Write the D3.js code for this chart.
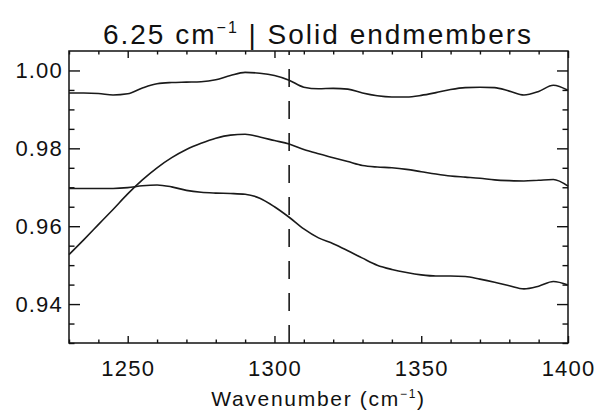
<!DOCTYPE html>
<meta charset="utf-8">
<head>
<script src="https://d3js.org/d3.v7.min.js"></script>
<style>
body { margin: 0; background: #fff; }
text { font-family: "Liberation Sans", Arial, sans-serif; fill: #111; }
.axis path { display: none; }
.axis line { stroke: #111; stroke-width: 1.4; }
.axis text { letter-spacing: 1.2px; }
</style>
</head>
<body>
<script>
// wavenumbers (cm-1), one sample every 5
var wavenumber = [1230,1235,1240,1245,1250,1255,1260,1265,1270,1275,1280,1285,1290,1295,1300,1305,1310,1315,1320,1325,1330,1335,1340,1345,1350,1355,1360,1365,1370,1375,1380,1385,1390,1395,1400];

var upper = [0.9942,0.9942,0.9941,0.9937,0.9940,0.9955,0.9966,0.9969,0.9970,0.9971,0.9976,0.9987,0.9995,0.9993,0.9987,0.9975,0.9957,0.9953,0.9954,0.9952,0.9942,0.9935,0.9932,0.9932,0.9936,0.9943,0.9951,0.9956,0.9957,0.9956,0.9947,0.9937,0.9946,0.9962,0.9949];

var middle = [0.9527,0.9565,0.9604,0.9643,0.9683,0.9719,0.9750,0.9776,0.9797,0.9813,0.9826,0.9834,0.9836,0.9829,0.9820,0.9811,0.9797,0.9786,0.9776,0.9766,0.9756,0.9752,0.9750,0.9746,0.9740,0.9734,0.9729,0.9726,0.9723,0.9719,0.9717,0.9716,0.9718,0.9720,0.9703];

var lower = [0.9697,0.9697,0.9697,0.9697,0.9699,0.9704,0.9706,0.9701,0.9692,0.9687,0.9685,0.9684,0.9682,0.9672,0.9650,0.9623,0.9593,0.9570,0.9555,0.9537,0.9518,0.9500,0.9489,0.9481,0.9475,0.9472,0.9472,0.9471,0.9464,0.9456,0.9447,0.9439,0.9446,0.9458,0.9449];

var xTicks = [1250, 1300, 1350, 1400];
var yTicks = [0.94, 0.96, 0.98, 1.00];
var markerWn = 1305;

var width = 597, height = 411;
var margin = {top: 51, right: 29, bottom: 68, left: 69};

var x = d3.scaleLinear().domain([1230, 1400]).range([margin.left, width - margin.right]);
var y = d3.scaleLinear().domain([0.93, 1.005]).range([height - margin.bottom, margin.top]);

var svg = d3.select("body").append("svg")
    .attr("width", width)
    .attr("height", height);

var xMinor = d3.range(1230, 1401, 10).filter(function(d) { return xTicks.indexOf(d) < 0; });
var yMinor = d3.range(0, 16).map(function(i) { return +(0.93 + i * 0.005).toFixed(3); })
    .filter(function(d) { return d < 1.005 && yTicks.indexOf(d) < 0; });

// ticks on all four sides, pointing inward
svg.append("g").attr("class", "axis")
    .attr("transform", "translate(0," + y.range()[0] + ")")
    .call(d3.axisBottom(x).tickValues(xTicks).tickSize(-7).tickPadding(17).tickFormat(d3.format("d")))
    .selectAll("text").style("font-size", "22px");
svg.append("g").attr("class", "axis")
    .attr("transform", "translate(0," + y.range()[0] + ")")
    .call(d3.axisBottom(x).tickValues(xMinor).tickSize(-3.5).tickFormat(""));
svg.append("g").attr("class", "axis")
    .attr("transform", "translate(0," + y.range()[1] + ")")
    .call(d3.axisTop(x).tickValues(xTicks).tickSize(-7).tickFormat(""));
svg.append("g").attr("class", "axis")
    .attr("transform", "translate(0," + y.range()[1] + ")")
    .call(d3.axisTop(x).tickValues(xMinor).tickSize(-3.5).tickFormat(""));

svg.append("g").attr("class", "axis")
    .attr("transform", "translate(" + x.range()[0] + ",0)")
    .call(d3.axisLeft(y).tickValues(yTicks).tickSize(-11).tickPadding(6).tickFormat(d3.format(".2f")))
    .selectAll("text").style("font-size", "22px");
svg.append("g").attr("class", "axis")
    .attr("transform", "translate(" + x.range()[0] + ",0)")
    .call(d3.axisLeft(y).tickValues(yMinor).tickSize(-5.5).tickFormat(""));
svg.append("g").attr("class", "axis")
    .attr("transform", "translate(" + x.range()[1] + ",0)")
    .call(d3.axisRight(y).tickValues(yTicks).tickSize(-11).tickFormat(""));
svg.append("g").attr("class", "axis")
    .attr("transform", "translate(" + x.range()[1] + ",0)")
    .call(d3.axisRight(y).tickValues(yMinor).tickSize(-5.5).tickFormat(""));

// frame
svg.append("rect")
    .attr("x", x.range()[0]).attr("y", y.range()[1])
    .attr("width", x.range()[1] - x.range()[0])
    .attr("height", y.range()[0] - y.range()[1])
    .attr("fill", "none").attr("stroke", "#111").attr("stroke-width", 1.5);

var line = d3.line()
    .x(function(d) { return x(d[0]); })
    .y(function(d) { return y(d[1]); })
    .curve(d3.curveMonotoneX);

[upper, middle, lower].forEach(function(series) {
  svg.append("path")
      .datum(wavenumber.map(function(w, i) { return [w, series[i]]; }))
      .attr("fill", "none")
      .attr("stroke", "#1a1a1a")
      .attr("stroke-width", 1.6)
      .attr("d", line);
});

// dashed marker, drawn bottom to top
svg.append("line")
    .attr("x1", x(markerWn)).attr("x2", x(markerWn))
    .attr("y1", y.range()[0]).attr("y2", y.range()[1])
    .attr("stroke", "#1a1a1a")
    .attr("stroke-width", 1.6)
    .attr("stroke-dasharray", "18,14");

// text with a small raised "-1"
function supText(sel, before, sup, after, size, supSize, rise) {
  sel.append("tspan").text(before);
  sel.append("tspan").attr("dy", -rise).style("font-size", supSize + "px").text(sup);
  sel.append("tspan").attr("dy", rise).style("font-size", size + "px").text(after);
}

var title = svg.append("text")
    .attr("x", 318).attr("y", 44)
    .attr("text-anchor", "middle")
    .style("font-size", "28px")
    .style("letter-spacing", "2px");
supText(title, "6.25 cm", "\u22121", " | Solid endmembers", 28, 16, 11);

var xlabel = svg.append("text")
    .attr("x", (x.range()[0] + x.range()[1]) / 2).attr("y", 406)
    .attr("text-anchor", "middle")
    .style("font-size", "21px")
    .style("letter-spacing", "1.7px");
supText(xlabel, "Wavenumber (cm", "\u22121", ")", 21, 12, 8);
</script>
</body>
